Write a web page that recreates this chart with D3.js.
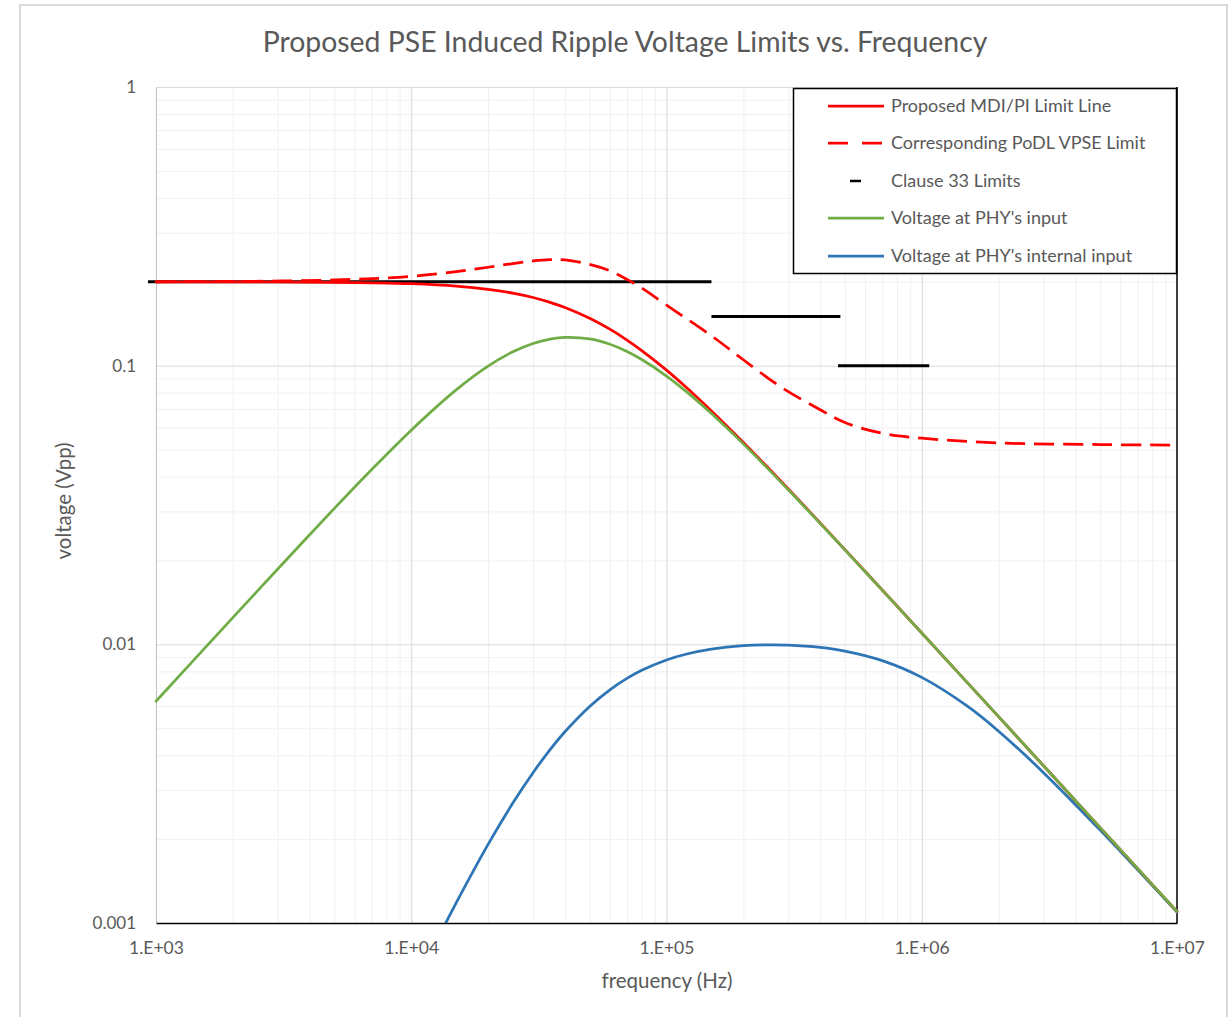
<!DOCTYPE html>
<html>
<head>
<meta charset="utf-8">
<script src="https://cdn.jsdelivr.net/npm/d3@7"></script>
<style>
  html, body { margin: 0; padding: 0; background: #ffffff; }
  svg { display: block; }
  text { font-family: Lato, "Open Sans", sans-serif; fill: #595959; }
</style>
</head>
<body>
<svg id="chart" width="1232" height="1017"></svg>
<script>
// Frequency grid (Hz) shared by the limit line and PHY input curve
const freqHz = [1e3, 2e3, 3e3, 5e3, 7e3, 1e4, 1.5e4, 2e4, 2.5e4, 3e4, 3.5e4, 4e4, 5e4, 6e4, 7e4, 8e4, 1e5, 1.2e5, 1.5e5, 2e5, 3e5, 5e5, 7e5, 1e6, 2e6, 3e6, 5e6, 7e6, 1e7];

// Proposed MDI/PI limit line (Vpp)
const mdiLimit = [0.2000, 0.1999, 0.1997, 0.1992, 0.1984, 0.1968, 0.1930, 0.1880, 0.1821, 0.1756, 0.1687, 0.1618, 0.1480, 0.1352, 0.1236, 0.1133, 0.0964, 0.0833, 0.0688, 0.0530, 0.0361, 0.02187, 0.01567, 0.01098, 0.00550, 0.003666, 0.00220, 0.001571, 0.00110];

// Voltage at PHY's input (Vpp)
const phyInput = [0.00625, 0.01247, 0.01864, 0.03075, 0.04240, 0.05870, 0.08189, 0.09962, 0.1121, 0.1201, 0.1245, 0.1263, 0.1247, 0.1193, 0.1124, 0.1052, 0.0918, 0.0805, 0.0673, 0.0524, 0.03586, 0.02183, 0.01565, 0.01098, 0.00550, 0.003666, 0.00220, 0.001571, 0.00110];

// Corresponding PoDL VPSE limit
const podlFreqHz = [1e3, 2e3, 5e3, 1e4, 1.5e4, 2e4, 2.5e4, 3e4, 3.5e4, 4e4, 5e4, 6e4, 7e4, 8e4, 1e5, 1.5e5, 2e5, 2.8e5, 4e5, 5e5, 7e5, 1e6, 2e6, 5e6, 1e7];
const podlLimit = [0.200, 0.2005, 0.203, 0.209, 0.2175, 0.2255, 0.2325, 0.2375, 0.2400, 0.2398, 0.231, 0.219, 0.204, 0.190, 0.165, 0.128, 0.105, 0.084, 0.0695, 0.0625, 0.0572, 0.0549, 0.0528, 0.0521, 0.0519];

// Voltage at PHY's internal input
const internalFreqHz = [1.3e4, 1.5e4, 2e4, 2.5e4, 3e4, 3.5e4, 4e4, 5e4, 6e4, 7e4, 8e4, 1e5, 1.2e5, 1.5e5, 2e5, 2.5e5, 3e5, 4e5, 5e5, 7e5, 1e6, 1.5e6, 2e6, 3e6, 5e6, 7e6, 1e7];
const phyInternal = [0.000916, 0.001181, 0.001915, 0.002694, 0.003463, 0.004189, 0.004855, 0.005986, 0.006868, 0.007546, 0.008069, 0.008787, 0.009230, 0.009610, 0.009888, 0.009963, 0.009938, 0.009749, 0.009457, 0.008739, 0.007609, 0.006021, 0.004878, 0.003464, 0.002154, 0.001554, 0.001094];

// Clause 33 limits: start Hz, end Hz, level Vpp
const clause33Start = [930, 1.5e5, 4.7e5];
const clause33End = [1.5e5, 4.8e5, 1.07e6];
const clause33Level = [0.2, 0.15, 0.1];

// Axis ticks
const xTickValues = [1e3, 1e4, 1e5, 1e6, 1e7];
const xTickLabels = ["1.E+03", "1.E+04", "1.E+05", "1.E+06", "1.E+07"];
const yTickValues = [0.001, 0.01, 0.1, 1];
const yTickLabels = ["0.001", "0.01", "0.1", "1"];

const seriesNames = ["Proposed MDI/PI Limit Line", "Corresponding PoDL VPSE Limit", "Clause 33 Limits", "Voltage at PHY's input", "Voltage at PHY's internal input"];

const svg = d3.select("#chart");
const plotLeft = 156, plotRight = 1177, plotTop = 87, plotBottom = 923;

const x = d3.scaleLog().domain([1e3, 1e7]).range([plotLeft, plotRight]);
const y = d3.scaleLog().domain([0.001, 1]).range([plotBottom, plotTop]);

// Outer chart frame
svg.append("rect").attr("x", 20).attr("y", 5).attr("width", 1207).attr("height", 1020)
  .attr("fill", "#ffffff").attr("stroke", "#d9d9d9").attr("stroke-width", 2);

// Clip region for the data curves
svg.append("defs").append("clipPath").attr("id", "plot-clip")
  .append("rect").attr("x", plotLeft - 2).attr("y", plotTop - 2)
  .attr("width", plotRight - plotLeft + 4).attr("height", plotBottom - plotTop + 2);

// Minor grid values (2..9 within each decade)
const minorX = [];
for (let d = 1e3; d < 1e7; d *= 10) for (let k = 2; k <= 9; k++) minorX.push(d * k);
const minorY = [];
for (let d = 0.001; d < 0.99; d *= 10) for (let k = 2; k <= 9; k++) minorY.push(d * k);

function gridAxis(axis, cls) {
  return g => {
    g.call(axis);
    g.select(".domain").remove();
    g.selectAll("text").remove();
    g.selectAll("line").attr("class", cls);
  };
}

const grid = svg.append("g");
grid.append("g").attr("transform", `translate(0,${plotBottom})`)
  .call(gridAxis(d3.axisBottom(x).tickValues(minorX).tickSize(-(plotBottom - plotTop)), "minor"));
grid.append("g").attr("transform", `translate(${plotLeft},0)`)
  .call(gridAxis(d3.axisLeft(y).tickValues(minorY).tickSize(-(plotRight - plotLeft)), "minor"));
grid.append("g").attr("transform", `translate(0,${plotBottom})`)
  .call(gridAxis(d3.axisBottom(x).tickValues(xTickValues).tickSize(-(plotBottom - plotTop)), "major"));
grid.append("g").attr("transform", `translate(${plotLeft},0)`)
  .call(gridAxis(d3.axisLeft(y).tickValues(yTickValues).tickSize(-(plotRight - plotLeft)), "major"));
grid.selectAll("line.minor").attr("stroke", "#f0f0f0").attr("stroke-width", 1);
grid.selectAll("line.major").attr("stroke", "#d9d9d9").attr("stroke-width", 1);

// Axes
const xAxis = svg.append("g").attr("transform", `translate(0,${plotBottom})`)
  .call(d3.axisBottom(x).tickValues(xTickValues).tickFormat((d, i) => xTickLabels[i]).tickSize(0).tickPadding(19));
xAxis.select(".domain").attr("stroke", "#000000").attr("stroke-width", 1.5);
xAxis.selectAll("text").style("font-family", "Lato, sans-serif").style("font-size", "17.5px").attr("fill", "#595959");

const yAxis = svg.append("g").attr("transform", `translate(${plotLeft},0)`)
  .call(d3.axisLeft(y).tickValues(yTickValues).tickFormat((d, i) => yTickLabels[i]).tickSize(0).tickPadding(20));
yAxis.select(".domain").attr("stroke", "#bfbfbf").attr("stroke-width", 1);
yAxis.selectAll("text").style("font-family", "Lato, sans-serif").style("font-size", "17px").attr("fill", "#595959");

// Right border of the plot area
svg.append("line").attr("x1", plotRight).attr("x2", plotRight).attr("y1", plotTop).attr("y2", plotBottom)
  .attr("stroke", "#000000").attr("stroke-width", 1.5);

const line = d3.line().x(d => x(d[0])).y(d => y(d[1])).curve(d3.curveCatmullRom.alpha(0.5));
const zip = (fs, vs) => fs.map((f, i) => [f, vs[i]]);

// Clause 33 limit segments
svg.append("g").selectAll("line").data(clause33Level).join("line")
  .attr("x1", (d, i) => x(clause33Start[i])).attr("x2", (d, i) => x(clause33End[i]))
  .attr("y1", d => y(d)).attr("y2", d => y(d))
  .attr("stroke", "#000000").attr("stroke-width", 3);

const curves = svg.append("g").attr("fill", "none").attr("stroke-linecap", "round")
  .attr("clip-path", "url(#plot-clip)");

curves.append("path").attr("d", line(zip(internalFreqHz, phyInternal)))
  .attr("stroke", "#2e75b6").attr("stroke-width", 2.75);
curves.append("path").attr("d", line(zip(freqHz, mdiLimit)))
  .attr("stroke", "#ff0000").attr("stroke-width", 2.75);
curves.append("path").attr("d", line(zip(freqHz, phyInput)))
  .attr("stroke", "#70ad47").attr("stroke-width", 2.75);
curves.append("path").attr("d", line(zip(podlFreqHz, podlLimit)))
  .attr("stroke", "#ff0000").attr("stroke-width", 2.75)
  .attr("stroke-dasharray", "20 9").attr("stroke-linecap", "butt");

// Legend
const legend = svg.append("g");
legend.append("rect").attr("x", 793.5).attr("y", 88.5).attr("width", 383).attr("height", 185)
  .attr("fill", "#ffffff").attr("stroke", "#000000").attr("stroke-width", 1.5);
const legendY = [106, 143, 181, 218, 256];
const legendStyle = [
  { color: "#ff0000", dash: null },
  { color: "#ff0000", dash: "20 14" },
  { color: "#000000", dash: null, marker: true },
  { color: "#70ad47", dash: null },
  { color: "#2e75b6", dash: null }
];
seriesNames.forEach((name, i) => {
  const s = legendStyle[i];
  if (s.marker) {
    legend.append("line").attr("x1", 850).attr("x2", 861).attr("y1", legendY[i]).attr("y2", legendY[i])
      .attr("stroke", s.color).attr("stroke-width", 2.5);
  } else {
    const l = legend.append("line").attr("x1", 828).attr("x2", 884).attr("y1", legendY[i]).attr("y2", legendY[i])
      .attr("stroke", s.color).attr("stroke-width", 2.75);
    if (s.dash) l.attr("stroke-dasharray", s.dash);
  }
  legend.append("text").attr("x", 891).attr("y", legendY[i]).attr("dy", "0.35em")
    .style("font-size", "18px").text(name);
});

// Titles
svg.append("text").attr("x", 625).attr("y", 52).attr("text-anchor", "middle")
  .style("font-size", "28.4px").text("Proposed PSE Induced Ripple Voltage Limits vs. Frequency");
svg.append("text").attr("x", 667).attr("y", 988).attr("text-anchor", "middle")
  .style("font-size", "20.5px").text("frequency (Hz)");
svg.append("text").attr("transform", "translate(71,501) rotate(-90)").attr("text-anchor", "middle")
  .style("font-size", "20.5px").text("voltage (Vpp)");
</script>
</body>
</html>
